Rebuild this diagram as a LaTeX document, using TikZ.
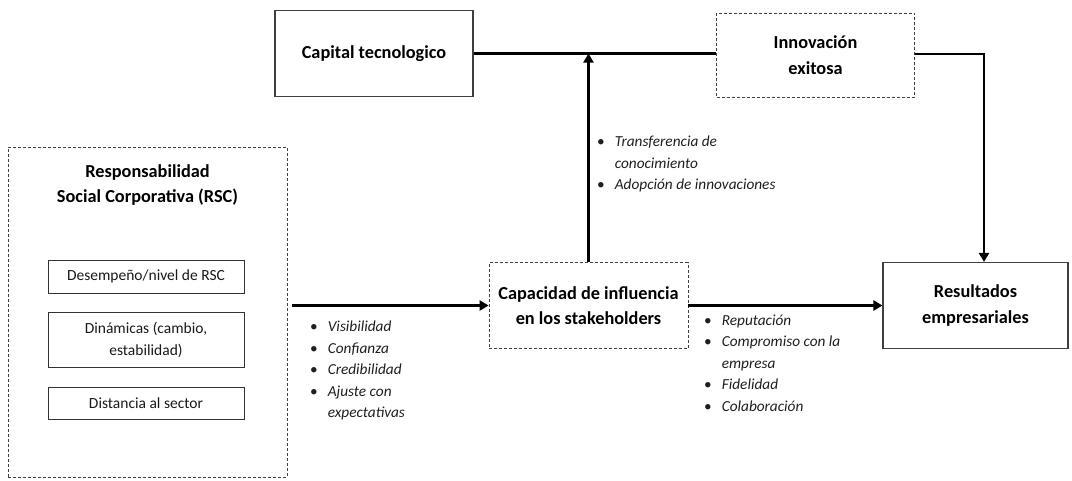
\documentclass[tikz,border=0pt]{standalone}
\usepackage{fontspec}
\setmainfont{Carlito}
\usetikzlibrary{arrows.meta,positioning}

\begin{document}
\begin{tikzpicture}[x=1pt,y=-1pt,
    box/.style={draw=black!75,line width=1.1pt,minimum width=198pt,minimum height=86pt,align=center,font=\fontsize{18.3}{25.5}\selectfont\bfseries},
    dbox/.style={box,line width=0.8pt,dash pattern=on 3pt off 2pt},
    item/.style={draw=black!80,line width=1pt,minimum width=196pt,align=center,text=black!90,font=\fontsize{15.5}{21.5}\selectfont},
    link/.style={line width=2.8pt},
    arr/.style={link,-{Triangle[length=9pt,width=10pt]}},
    list/.style={anchor=north west,inner sep=0pt,text=black!88,font=\fontsize{15.3}{21.5}\selectfont\itshape}]

    \useasboundingbox (0,0) rectangle (1072,480);

    \node[box] (cap) at (374,53.5) {Capital tecnologico};
    \node[dbox,minimum height=84pt] (inno) at (815.5,55) {Innovación\\exitosa};
    \node[dbox,minimum width=199pt] (infl) at (588.5,305.5) {Capacidad de influencia\\en los stakeholders};
    \node[box,minimum width=185pt] (res) at (975.5,305.5) {Resultados\\empresariales};

    % bloque RSC
    \node[dbox,minimum width=279pt,minimum height=330pt] (rsc) at (147.5,312) {};
    \node[font=\fontsize{18.3}{25.5}\selectfont\bfseries,align=center] (rsctitle) at (147.5,185) {Responsabilidad\\Social Corporativa (RSC)};
    \node[item,minimum height=33pt] (nivel) at (146,276.5) {Desempeño/nivel de RSC};
    \node[item,minimum height=55pt] (din) at (146,340) {Dinámicas (cambio,\\estabilidad)};
    \node[item,minimum height=32pt] (dist) at (146,403) {Distancia al sector};

    % flechas
    \draw[arr,shorten <=5pt] (rsc.east |- infl.west) -- (infl.west);
    \draw[arr] (infl.east) -- (res.west);
    \draw[arr] (infl.north) -- (infl.north |- cap.east);
    \draw[link] (cap.east) -- (cap.east -| inno.west);
    \coordinate (turn) at (984,54);
    \draw[arr] (inno.east |- turn) -- (turn) -- (turn |- res.north);

    % listas
    \node[list] (rsclist) at (310,316.5) {\begin{tabular}{@{}l@{\hspace{10pt}}l@{}}
        \textup{\textbullet} & Visibilidad\\
        \textup{\textbullet} & Confianza\\
        \textup{\textbullet} & Credibilidad\\
        \textup{\textbullet} & Ajuste con\\
        & expectativas
    \end{tabular}};
    \node[list] (replist) at (704,310) {\begin{tabular}{@{}l@{\hspace{10pt}}l@{}}
        \textup{\textbullet} & Reputación\\
        \textup{\textbullet} & Compromiso con la\\
        & empresa\\
        \textup{\textbullet} & Fidelidad\\
        \textup{\textbullet} & Colaboración
    \end{tabular}};
    \node[list] (tralist) at (597,131.5) {\begin{tabular}{@{}l@{\hspace{10pt}}l@{}}
        \textup{\textbullet} & Transferencia de\\
        & conocimiento\\
        \textup{\textbullet} & Adopción de innovaciones
    \end{tabular}};
\end{tikzpicture}
\end{document}
